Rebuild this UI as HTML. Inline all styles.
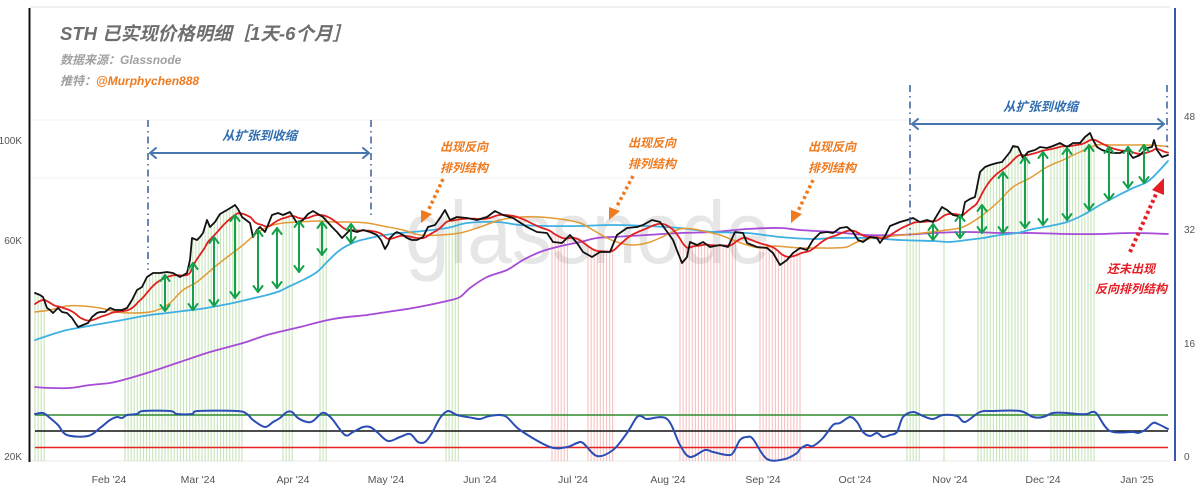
<!DOCTYPE html>
<html><head><meta charset="utf-8">
<style>
html,body{margin:0;padding:0;background:#fff}
body{width:1200px;height:490px;overflow:hidden}
svg{display:block}
text{font-family:"Liberation Sans","Noto Sans CJK SC",sans-serif}
</style></head>
<body>
<svg id="s" width="1200" height="490" viewBox="0 0 1200 490" xmlns="http://www.w3.org/2000/svg">
<rect width="1200" height="490" fill="#fff"/>
<!-- watermark -->
<text x="405" y="263" font-size="88" fill="#e6e6e6" textLength="365" lengthAdjust="spacingAndGlyphs" style="font-family:'Liberation Sans',sans-serif">glassnode</text>
<!-- frame -->
<line x1="30" y1="7" x2="1170" y2="7" stroke="#e2e2e2" stroke-width="1"/>
<line x1="30" y1="120" x2="1170" y2="120" stroke="#f2f2f2" stroke-width="1"/>
<line x1="30" y1="178" x2="1170" y2="178" stroke="#f2f2f2" stroke-width="1"/>
<line x1="30" y1="461" x2="1170" y2="461" stroke="#e8e8e8" stroke-width="1"/>
<g id="bars"></g>
<g id="lines" fill="none" stroke-linejoin="round" stroke-linecap="round"></g>
<!-- indicator horizontal levels -->
<line x1="35" y1="415" x2="1168" y2="415" stroke="#2e8b2e" stroke-width="1.6"/>
<line x1="35" y1="431" x2="1168" y2="431" stroke="#111" stroke-width="1.6"/>
<line x1="35" y1="447.5" x2="1168" y2="447.5" stroke="#e62222" stroke-width="1.6"/>
<g id="ind" fill="none" stroke-linejoin="round" stroke-linecap="round"></g>
<g id="arrows" fill="none" stroke="#16a04c" stroke-width="2" stroke-linecap="round" stroke-linejoin="round"></g>
<!-- axes -->
<line x1="29.5" y1="8" x2="29.5" y2="462" stroke="#111" stroke-width="2"/>
<line x1="1175" y1="8" x2="1175" y2="461" stroke="#3358b0" stroke-width="2"/>
<g font-size="10" fill="#555" text-anchor="end">
<text x="22" y="144">100K</text>
<text x="22" y="244">60K</text>
<text x="22" y="460">20K</text>
</g>
<g font-size="10" fill="#555" text-anchor="start">
<text x="1184" y="120">48</text>
<text x="1184" y="233">32</text>
<text x="1184" y="347">16</text>
<text x="1184" y="460">0</text>
</g>
<g font-size="10.5" fill="#555" text-anchor="middle">
<text x="109" y="483">Feb '24</text>
<text x="198" y="483">Mar '24</text>
<text x="293" y="483">Apr '24</text>
<text x="386" y="483">May '24</text>
<text x="480" y="483">Jun '24</text>
<text x="573" y="483">Jul '24</text>
<text x="668" y="483">Aug '24</text>
<text x="763" y="483">Sep '24</text>
<text x="855" y="483">Oct '24</text>
<text x="950" y="483">Nov '24</text>
<text x="1043" y="483">Dec '24</text>
<text x="1137" y="483">Jan '25</text>
</g>
<!-- titles -->
<text x="60" y="40" font-size="18.5" font-weight="bold" font-style="italic" fill="#6e6e6e">STH 已实现价格明细［1天-6个月］</text>
<text x="60" y="64" font-size="12" font-weight="bold" font-style="italic" fill="#a0a0a0">数据来源：Glassnode</text>
<text x="60" y="85" font-size="12" font-weight="bold" font-style="italic" fill="#a0a0a0">推特：<tspan fill="#f07a1e">@Murphychen888</tspan></text>
<!-- dash-dot verticals -->
<g stroke="#3a5d9c" stroke-width="1.5" stroke-dasharray="7,4,1.5,4" fill="none">
<line x1="148" y1="120" x2="148" y2="270"/>
<line x1="371" y1="120" x2="371" y2="215"/>
<line x1="910" y1="85" x2="910" y2="235"/>
<line x1="1167" y1="85" x2="1167" y2="150"/>
</g>
<!-- horizontal arrows -->
<g stroke="#4677b0" stroke-width="2" fill="none" stroke-linecap="round" stroke-linejoin="round">
<line x1="150" y1="153" x2="369" y2="153"/>
<polyline points="156,148 150,153 156,158"/>
<polyline points="363,148 369,153 363,158"/>
<line x1="912" y1="124" x2="1164" y2="124"/>
<polyline points="918,119 912,124 918,129"/>
<polyline points="1158,119 1164,124 1158,129"/>
</g>
<g font-size="12.5" font-weight="bold" font-style="italic" fill="#2f6db0">
<text x="222" y="140">从扩张到收缩</text>
<text x="1003" y="111">从扩张到收缩</text>
</g>
<!-- orange annotations -->
<g font-size="12" font-weight="bold" font-style="italic" fill="#f07a1e">
<text x="440" y="151">出现反向</text>
<text x="440" y="172">排列结构</text>
<text x="628" y="147">出现反向</text>
<text x="628" y="168">排列结构</text>
<text x="808" y="151">出现反向</text>
<text x="808" y="172">排列结构</text>
</g>
<g stroke="#f07a1e" stroke-width="3.5" stroke-dasharray="3,3" fill="none">
<line x1="443" y1="179" x2="428" y2="211"/>
<line x1="633" y1="176" x2="616" y2="208"/>
<line x1="813" y1="180" x2="798" y2="211"/>
</g>
<g fill="#f07a1e">
<polygon points="421,223 421,210 432,214"/>
<polygon points="609,220 609,207 620,211"/>
<polygon points="791,223 791,210 802,214"/>
</g>
<!-- red annotation -->
<g stroke="#e51d25" stroke-width="4" stroke-dasharray="3,3" fill="none">
<line x1="1130" y1="252" x2="1157" y2="192"/>
</g>
<polygon points="1164,178 1164,195 1152,190" fill="#e51d25"/>
<g font-size="12" font-weight="bold" font-style="italic" fill="#e51d25">
<text x="1107" y="273">还未出现</text>
<text x="1095" y="293">反向排列结构</text>
</g>
</svg>
<script>
(function(){
var NS="http://www.w3.org/2000/svg";
function el(parent,tag,attrs){var e=document.createElementNS(NS,tag);for(var k in attrs)e.setAttribute(k,attrs[k]);document.getElementById(parent).appendChild(e);return e;}
var P=[[35,293],[40,295],[43,297],[47,308],[50,310],[53,313],[58,308],[62,312],[67,313],[72,318],[78,327],[83,325],[88,323],[92,317],[97,313],[100,312],[105,312],[110,308],[115,310],[122,310],[127,308],[132,300],[137,290],[142,287],[147,277],[153,273],[160,273],[167,272],[173,273],[180,277],[187,273],[190,260],[192,238],[197,240],[200,237],[203,233],[207,220],[210,227],[215,222],[220,214],[227,210],[232,207],[235,205],[238,209],[242,217],[246,220],[250,223],[253,237],[257,230],[260,227],[265,232],[268,225],[272,215],[278,213],[283,215],[290,212],[297,223],[303,220],[308,214],[313,211],[318,214],[323,217],[332,227],[337,232],[342,238],[350,230],[357,232],[363,230],[370,232],[377,235],[381,240],[385,249],[388,244],[390,238],[395,233],[397,232],[403,235],[407,238],[412,240],[417,240],[423,237],[428,227],[435,225],[440,218],[445,210],[450,220],[457,217],[467,218],[477,220],[487,217],[495,211],[503,215],[513,218],[527,227],[537,232],[547,233],[553,242],[562,243],[570,235],[577,243],[583,252],[592,257],[600,252],[610,252],[617,235],[627,228],[637,227],[643,225],[652,220],[660,222],[668,233],[673,240],[678,253],[682,263],[687,257],[690,242],[697,245],[703,242],[710,247],[720,245],[728,247],[735,232],[743,233],[747,243],[757,247],[767,248],[773,253],[780,265],[787,260],[793,253],[800,248],[807,250],[813,240],[820,233],[827,232],[833,233],[840,228],[847,227],[853,232],[858,240],[863,242],[870,237],[877,238],[880,243],[885,236],[890,226],[895,224],[900,222],[907,220],[913,218],[920,222],[927,220],[933,222],[942,207],[947,210],[953,215],[962,217],[965,202],[970,199],[975,197],[980,172],[985,167],[990,165],[997,163],[1002,162],[1010,152],[1013,146],[1018,147],[1023,158],[1028,152],[1035,150],[1040,147],[1047,148],[1053,146],[1060,143],[1067,147],[1073,143],[1080,143],[1085,137],[1090,133],[1093,140],[1097,147],[1102,150],[1108,152],[1113,153],[1120,153],[1127,150],[1133,158],[1140,155],[1147,148],[1152,147],[1154,140],[1157,150],[1162,157],[1168,155]];
var O=[[35,312],[50,310],[67,306],[83,306],[100,308],[117,312],[133,313],[150,312],[160,309],[170,303],[183,290],[197,282],[217,265],[230,255],[243,245],[257,233],[270,226],[283,223],[300,222],[317,221],[333,222],[350,222],[367,223],[383,226],[403,230],[420,235],[440,235],[460,233],[480,227],[500,220],[520,217],[540,217],[560,219],[580,223],[593,230],[607,238],[620,243],[633,245],[647,243],[660,238],[670,233],[680,229],[693,229],[707,232],[720,235],[733,240],[747,245],[760,248],[773,246],[787,247],[800,248],[817,248],[833,248],[847,247],[857,242],[873,238],[893,236],[913,234],[947,230],[963,227],[980,217],[997,203],[1013,187],[1030,178],[1047,167],[1063,160],[1080,152],[1097,145],[1113,145],[1130,145],[1147,145],[1163,146],[1168,147]];
var C=[[35,340],[50,335],[67,330],[83,327],[100,324],[117,321],[133,318],[150,315],[167,313],[183,311],[200,309],[217,306],[233,303],[250,299],[267,295],[280,291],[290,286],[303,280],[317,272],[328,261],[340,250],[355,242],[370,238],[385,235],[400,233],[413,232],[447,228],[467,223],[497,222],[520,225],[547,226],[580,226],[613,225],[647,226],[680,228],[713,232],[747,233],[780,237],[813,239],[833,238],[867,238],[900,240],[933,241],[950,242],[967,240],[983,238],[1000,235],[1017,233],[1033,229],[1050,226],[1067,222],[1083,215],[1100,205],[1117,196],[1133,188],[1147,182],[1157,173],[1168,161]];
var U=[[35,387],[50,388],[70,388],[90,385],[110,383],[123,380],[150,372],[180,362],[210,352],[243,343],[267,335],[300,327],[333,319],[367,315],[380,313],[413,308],[447,301],[460,297],[470,288],[487,277],[507,270],[523,260],[540,252],[557,247],[580,242],[597,238],[613,237],[647,235],[680,233],[713,232],[747,229],[780,228],[800,230],[833,232],[867,235],[900,235],[933,233],[967,232],[1000,233],[1033,233],[1067,234],[1100,234],[1133,233],[1168,234]];
var B=[[35,414],[43,413],[50,418],[58,425],[67,435],[88,436],[100,428],[110,420],[117,417],[122,418],[127,415],[137,414],[143,411],[170,411],[177,414],[192,414],[198,411],[237,411],[247,414],[253,420],[265,427],[273,422],[280,418],[287,412],[292,412],[298,418],[307,422],[313,421],[322,413],[328,415],[333,420],[345,435],[353,432],[363,427],[370,427],[377,432],[388,441],[400,437],[410,434],[418,442],[425,442],[432,433],[440,418],[448,411],[457,415],[473,418],[480,419],[490,416],[505,416],[520,430],[550,447],[567,447],[577,443],[583,443],[597,456],[613,450],[627,433],[637,417],[643,417],[647,419],[667,419],[680,445],[690,457],[705,450],[713,452],[727,455],[733,453],[740,440],[747,437],[753,439],[767,459],[785,459],[797,453],[800,449],[807,445],[813,446],[823,438],[833,425],[840,423],[850,417],[857,422],[863,432],[870,436],[877,433],[883,437],[890,435],[897,432],[903,417],[913,412],[923,416],[933,419],[943,415],[957,416],[965,422],[980,412],[993,411],[1020,411],[1033,417],[1043,417],[1053,413],[1067,413],[1077,414],[1087,414],[1092,412],[1097,414],[1110,431],[1133,432],[1138,433],[1145,430],[1153,423],[1158,424],[1168,429]];
function smooth(p){var d="M"+p[0][0]+","+p[0][1];var n=p.length;for(var i=0;i<n-1;i++){var p0=p[Math.max(i-1,0)],p1=p[i],p2=p[i+1],p3=p[Math.min(i+2,n-1)];var c1x=p1[0]+(p2[0]-p0[0])/6,c1y=p1[1]+(p2[1]-p0[1])/6,c2x=p2[0]-(p3[0]-p1[0])/6,c2y=p2[1]-(p3[1]-p1[1])/6;d+=" C"+c1x.toFixed(1)+","+c1y.toFixed(1)+" "+c2x.toFixed(1)+","+c2y.toFixed(1)+" "+p2[0]+","+p2[1];}return d;}
function poly(p){return "M"+p.map(function(q){return q[0].toFixed(1)+","+q[1].toFixed(1)}).join(" L");}
function interp(p,x){if(x<=p[0][0])return p[0][1];for(var i=0;i<p.length-1;i++){if(x>=p[i][0]&&x<=p[i+1][0]){var t=(x-p[i][0])/(p[i+1][0]-p[i][0]);return p[i][1]+t*(p[i+1][1]-p[i][1]);}}return p[p.length-1][1];}
// red EMA
var R=[],v=305,a=0.075;
for(var x=35;x<=1168;x++){v=v+a*(interp(P,x)-v);R.push([x,v]);}
// bars
var gR=[[35,45],[125,245],[283,293],[320,328],[446,460],[907,920],[944,944],[978,1028],[1051,1095]];
var rR=[[552,568],[588,615],[680,737],[760,802]];
function bars(ranges,col){ranges.forEach(function(r){for(var x=r[0];x<=r[1]+0.01;x+=3.08){var top=Math.min(interp(P,x),interp(R,x));el("bars","line",{x1:x.toFixed(1),y1:top.toFixed(1),x2:x.toFixed(1),y2:461,stroke:col,"stroke-width":1.1});}});}
bars(gR,"rgba(130,195,100,0.45)");
bars(rR,"rgba(238,120,120,0.45)");
el("lines","path",{d:smooth(U),stroke:"#a64bd6","stroke-width":1.8});
el("lines","path",{d:smooth(C),stroke:"#3fb0e2","stroke-width":1.8});
el("lines","path",{d:smooth(O),stroke:"#e39a35","stroke-width":1.5});
el("lines","path",{d:poly(R),stroke:"#e0201e","stroke-width":1.8});
el("lines","path",{d:poly(P),stroke:"#111","stroke-width":1.8});
el("ind","path",{d:smooth(B),stroke:"#2b4db3","stroke-width":2});
var A=[[165,275,311],[193,263,310],[214,237,306],[235,215,298],[258,230,292],[277,228,288],[299,221,272],[322,222,255],[351,224,243],[933,224,240],[960,215,238],[982,205,233],[1003,172,233],[1025,157,228],[1043,152,225],[1067,148,220],[1089,145,210],[1109,147,200],[1128,147,188],[1144,145,183]];
A.forEach(function(q){var x=q[0],y1=q[1],y2=q[2];var h=Math.min(6,(y2-y1)/2);
el("arrows","line",{x1:x,y1:y1,x2:x,y2:y2});
el("arrows","polyline",{points:(x-4.5)+","+(y1+h)+" "+x+","+y1+" "+(x+4.5)+","+(y1+h)});
el("arrows","polyline",{points:(x-4.5)+","+(y2-h)+" "+x+","+y2+" "+(x+4.5)+","+(y2-h)});});
})();
</script>
</body></html>
